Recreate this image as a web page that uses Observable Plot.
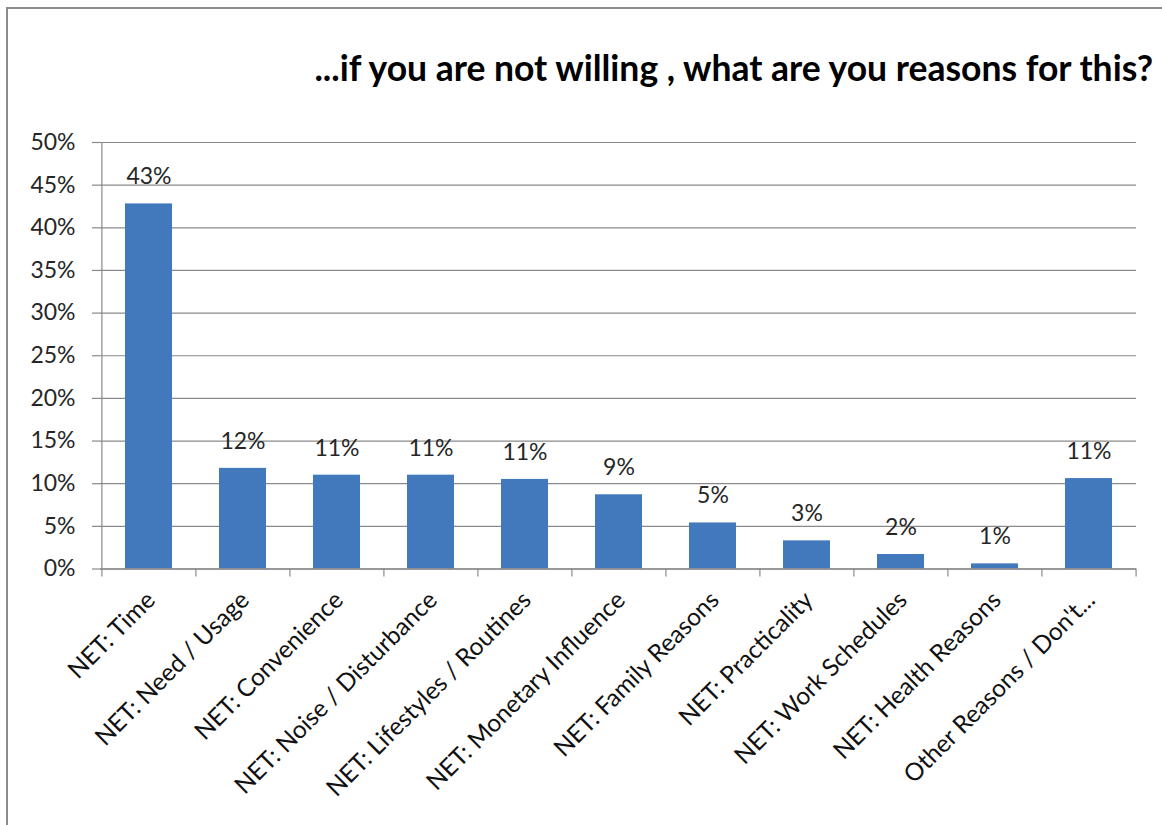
<!DOCTYPE html>
<html>
<head>
<meta charset="utf-8">
<script src="https://cdn.jsdelivr.net/npm/d3@7"></script>
<script src="https://cdn.jsdelivr.net/npm/@observablehq/plot@0.6"></script>
<style>
  html, body { margin: 0; padding: 0; background: #fff; width: 1162px; height: 825px; overflow: hidden; }
  #frame { position: absolute; left: 6px; top: 7px; width: 1300px; height: 1000px; border: 2px solid #8c8c8c; box-sizing: border-box; }
  #title { position: absolute; right: 9px; top: 50px; font-family: Lato, sans-serif; font-weight: bold; font-size: 35.5px; line-height: 35px; color: #000; white-space: nowrap; }
  #chart { position: absolute; left: 0; top: 100px; }
</style>
</head>
<body>
<div id="frame"></div>
<div id="title">...if you are not willing , what are you reasons for this?</div>
<div id="chart"></div>
<script>
const categories = [
  "NET: Time",
  "NET: Need / Usage",
  "NET: Convenience",
  "NET: Noise / Disturbance",
  "NET: Lifestyles / Routines",
  "NET: Monetary Influence",
  "NET: Family Reasons",
  "NET: Practicality",
  "NET: Work Schedules",
  "NET: Health Reasons",
  "Other Reasons / Don't..."
];
const values = [0.428, 0.118, 0.110, 0.110, 0.105, 0.087, 0.054, 0.033, 0.017, 0.006, 0.106];
const yTicks = [0, 0.05, 0.10, 0.15, 0.20, 0.25, 0.30, 0.35, 0.40, 0.45, 0.50];

const data = categories.map((c, i) => ({cat: c, value: values[i]}));

const W = 1162, H = 725;
const mL = 100, mR = 26, mT = 42, mB = 256.5;
const step = (W - mL - mR) / categories.length;
const fmt = d3.format(".0%");
const font = "Lato, sans-serif";
const grid = "#8a8a8a";

const chart = Plot.plot({
  width: W,
  height: H,
  marginLeft: mL,
  marginRight: mR,
  marginTop: mT,
  marginBottom: mB,
  style: {fontFamily: font, background: "transparent", overflow: "visible"},
  x: {domain: categories, paddingInner: 0.5, paddingOuter: 0.25, axis: null},
  y: {domain: [0, 0.5], axis: null},
  marks: [
    Plot.gridY(yTicks, {stroke: grid, strokeOpacity: 1, strokeWidth: 1.2}),
    Plot.axisY(yTicks, {tickFormat: fmt, tickSize: 8, tickPadding: 17, fontSize: 23, stroke: grid, strokeOpacity: 1, strokeWidth: 1.2, fill: "#262626", label: null}),
    Plot.ruleX([categories[0]], {dx: -step / 2, y1: 0, y2: 0.5, stroke: grid, strokeWidth: 1.2}),
    Plot.barY(data, {x: "cat", y: "value", fill: "#4279bd"}),
    Plot.ruleY([0], {stroke: grid, strokeWidth: 1.5}),
    Plot.ruleX(categories, {dx: -step / 2, y1: 0, y2: 0, insetBottom: -8, stroke: grid, strokeWidth: 1.2}),
    Plot.ruleX([categories[categories.length - 1]], {dx: step / 2, y1: 0, y2: 0, insetBottom: -8, stroke: grid, strokeWidth: 1.2}),
    Plot.text(data, {x: "cat", y: "value", text: d => fmt(d.value), lineAnchor: "middle", dy: -27, fontSize: 23, fill: "#262626"}),
    Plot.axisX(categories, {tickRotate: -45, tickSize: 0, tickPadding: 27, dx: 2, fontSize: 24.5, fill: "#111", label: null})
  ]
});
document.getElementById("chart").appendChild(chart);
</script>
</body>
</html>
